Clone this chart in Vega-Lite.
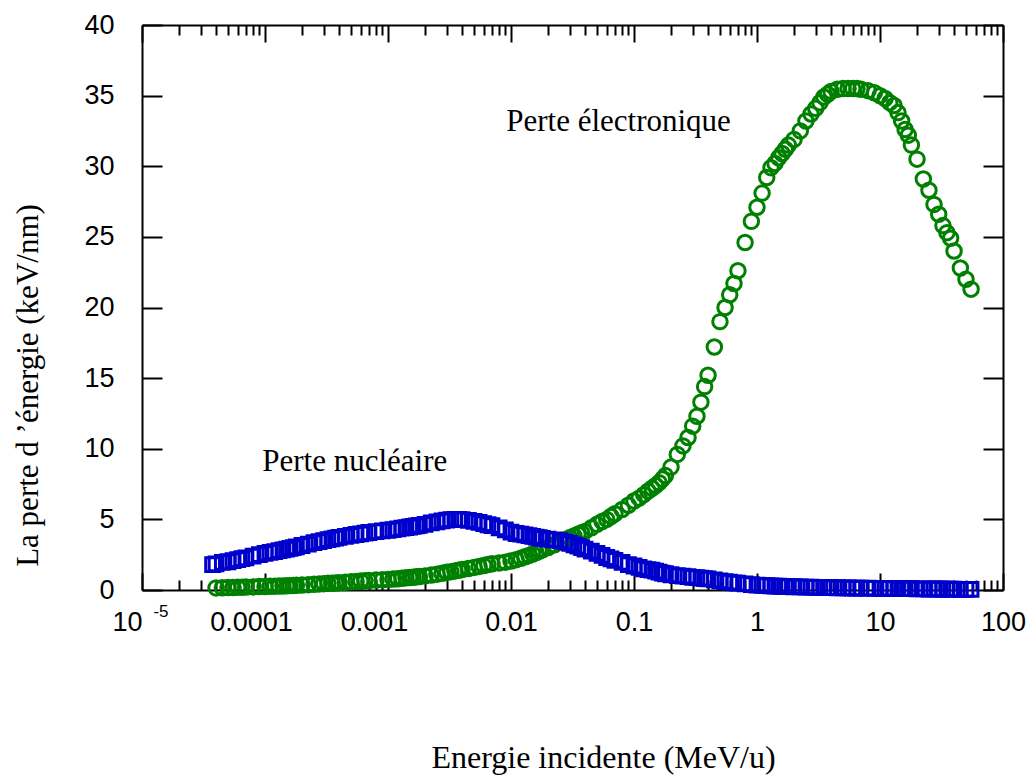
{
  "$schema": "https://vega.github.io/schema/vega-lite/v6.json",
  "width": 861,
  "height": 565,
  "autosize": {"type": "none"},
  "padding": {"left": 142, "top": 25, "right": 31, "bottom": 186},
  "background": "white",
  "config": {
    "view": {"stroke": null},
    "axis": {
      "grid": false,
      "domainColor": "black",
      "domainWidth": 2,
      "tickColor": "black",
      "tickWidth": 2,
      "labelColor": "black",
      "labelFont": "Liberation Sans",
      "labelFontSize": 27,
      "titleColor": "black",
      "titleFont": "Liberation Serif",
      "titleFontWeight": "normal"
    }
  },
  "datasets": {
    "electronique": [
      {"E": 4e-5, "S": 0.15}, {"E": 4.5e-5, "S": 0.16}, {"E": 5e-5, "S": 0.17}, {"E": 5.5e-5, "S": 0.18},
      {"E": 6e-5, "S": 0.19}, {"E": 6.5e-5, "S": 0.2}, {"E": 7e-5, "S": 0.21}, {"E": 8e-5, "S": 0.22},
      {"E": 9e-5, "S": 0.24}, {"E": 1e-4, "S": 0.25}, {"E": 1.1e-4, "S": 0.26}, {"E": 1.2e-4, "S": 0.27},
      {"E": 1.3e-4, "S": 0.28}, {"E": 1.4e-4, "S": 0.29}, {"E": 1.5e-4, "S": 0.3}, {"E": 1.6e-4, "S": 0.31},
      {"E": 1.7e-4, "S": 0.32}, {"E": 1.8e-4, "S": 0.33}, {"E": 2e-4, "S": 0.35}, {"E": 2.25e-4, "S": 0.38},
      {"E": 2.5e-4, "S": 0.4}, {"E": 2.75e-4, "S": 0.43}, {"E": 3e-4, "S": 0.45}, {"E": 3.25e-4, "S": 0.47},
      {"E": 3.5e-4, "S": 0.48}, {"E": 3.75e-4, "S": 0.5}, {"E": 4e-4, "S": 0.52}, {"E": 4.5e-4, "S": 0.55},
      {"E": 5e-4, "S": 0.58}, {"E": 5.5e-4, "S": 0.6}, {"E": 6e-4, "S": 0.63}, {"E": 6.5e-4, "S": 0.65},
      {"E": 7e-4, "S": 0.67}, {"E": 8e-4, "S": 0.7}, {"E": 9e-4, "S": 0.73}, {"E": 0.001, "S": 0.75},
      {"E": 0.0011, "S": 0.78}, {"E": 0.0012, "S": 0.8}, {"E": 0.0013, "S": 0.83}, {"E": 0.0014, "S": 0.86},
      {"E": 0.0015, "S": 0.88}, {"E": 0.0016, "S": 0.9}, {"E": 0.0017, "S": 0.93}, {"E": 0.0018, "S": 0.95},
      {"E": 0.002, "S": 1.0}, {"E": 0.00225, "S": 1.06}, {"E": 0.0025, "S": 1.12}, {"E": 0.00275, "S": 1.18},
      {"E": 0.003, "S": 1.25}, {"E": 0.00325, "S": 1.3}, {"E": 0.0035, "S": 1.35}, {"E": 0.00375, "S": 1.4},
      {"E": 0.004, "S": 1.45}, {"E": 0.0045, "S": 1.52}, {"E": 0.005, "S": 1.6}, {"E": 0.0055, "S": 1.67},
      {"E": 0.006, "S": 1.73}, {"E": 0.0065, "S": 1.8}, {"E": 0.007, "S": 1.85}, {"E": 0.008, "S": 1.92},
      {"E": 0.009, "S": 1.97}, {"E": 0.01, "S": 2.05}, {"E": 0.011, "S": 2.15}, {"E": 0.012, "S": 2.25},
      {"E": 0.013, "S": 2.35}, {"E": 0.014, "S": 2.45}, {"E": 0.015, "S": 2.55}, {"E": 0.016, "S": 2.65},
      {"E": 0.017, "S": 2.75}, {"E": 0.018, "S": 2.85}, {"E": 0.02, "S": 3.0}, {"E": 0.0225, "S": 3.2},
      {"E": 0.025, "S": 3.4}, {"E": 0.0275, "S": 3.55}, {"E": 0.03, "S": 3.7}, {"E": 0.0325, "S": 3.82},
      {"E": 0.035, "S": 3.95}, {"E": 0.0375, "S": 4.05}, {"E": 0.04, "S": 4.15}, {"E": 0.045, "S": 4.4},
      {"E": 0.05, "S": 4.65}, {"E": 0.055, "S": 4.85}, {"E": 0.06, "S": 5.0}, {"E": 0.065, "S": 5.2},
      {"E": 0.07, "S": 5.4}, {"E": 0.08, "S": 5.7}, {"E": 0.09, "S": 6.0}, {"E": 0.1, "S": 6.3},
      {"E": 0.11, "S": 6.5}, {"E": 0.12, "S": 6.75}, {"E": 0.13, "S": 7.0}, {"E": 0.14, "S": 7.2},
      {"E": 0.15, "S": 7.4}, {"E": 0.16, "S": 7.6}, {"E": 0.17, "S": 7.85}, {"E": 0.18, "S": 8.1},
      {"E": 0.2, "S": 8.7}, {"E": 0.225, "S": 9.6}, {"E": 0.25, "S": 10.2}, {"E": 0.275, "S": 10.8},
      {"E": 0.3, "S": 11.6}, {"E": 0.325, "S": 12.3}, {"E": 0.35, "S": 13.3}, {"E": 0.375, "S": 14.4},
      {"E": 0.4, "S": 15.2}, {"E": 0.45, "S": 17.2}, {"E": 0.5, "S": 19.0}, {"E": 0.55, "S": 20.0},
      {"E": 0.6, "S": 20.9}, {"E": 0.65, "S": 21.7}, {"E": 0.7, "S": 22.6}, {"E": 0.8, "S": 24.6},
      {"E": 0.9, "S": 26.1}, {"E": 1, "S": 27.1}, {"E": 1.1, "S": 28.1}, {"E": 1.2, "S": 29.2},
      {"E": 1.3, "S": 29.9}, {"E": 1.4, "S": 30.2}, {"E": 1.5, "S": 30.6}, {"E": 1.6, "S": 30.9},
      {"E": 1.7, "S": 31.2}, {"E": 1.8, "S": 31.5}, {"E": 2, "S": 31.9}, {"E": 2.25, "S": 32.5},
      {"E": 2.5, "S": 33.2}, {"E": 2.75, "S": 33.7}, {"E": 3, "S": 34.1}, {"E": 3.25, "S": 34.5},
      {"E": 3.5, "S": 34.9}, {"E": 3.75, "S": 35.1}, {"E": 4, "S": 35.3}, {"E": 4.5, "S": 35.45},
      {"E": 5, "S": 35.5}, {"E": 5.5, "S": 35.5}, {"E": 6, "S": 35.5}, {"E": 6.5, "S": 35.5},
      {"E": 7, "S": 35.45}, {"E": 8, "S": 35.35}, {"E": 9, "S": 35.2}, {"E": 10, "S": 35.0},
      {"E": 11, "S": 34.8}, {"E": 12, "S": 34.5}, {"E": 13, "S": 34.3}, {"E": 14, "S": 33.8},
      {"E": 15, "S": 33.2}, {"E": 16, "S": 32.6}, {"E": 17, "S": 32.2}, {"E": 18, "S": 31.5},
      {"E": 20, "S": 30.5}, {"E": 22.5, "S": 29.1}, {"E": 25, "S": 28.3}, {"E": 27.5, "S": 27.3},
      {"E": 30, "S": 26.6}, {"E": 32.5, "S": 25.8}, {"E": 35, "S": 25.3}, {"E": 37.5, "S": 24.9},
      {"E": 40, "S": 24.0}, {"E": 45, "S": 22.8}, {"E": 50, "S": 22.0}, {"E": 55, "S": 21.3}
    ],
    "nucleaire": [
      {"E": 3.75e-5, "S": 1.8}, {"E": 4e-5, "S": 1.85}, {"E": 4.5e-5, "S": 1.95}, {"E": 5e-5, "S": 2.0},
      {"E": 5.5e-5, "S": 2.08}, {"E": 6e-5, "S": 2.15}, {"E": 6.5e-5, "S": 2.22}, {"E": 7e-5, "S": 2.28},
      {"E": 8e-5, "S": 2.4}, {"E": 9e-5, "S": 2.5}, {"E": 1e-4, "S": 2.6}, {"E": 1.1e-4, "S": 2.66},
      {"E": 1.2e-4, "S": 2.72}, {"E": 1.3e-4, "S": 2.78}, {"E": 1.4e-4, "S": 2.84}, {"E": 1.5e-4, "S": 2.9},
      {"E": 1.6e-4, "S": 2.95}, {"E": 1.7e-4, "S": 3.0}, {"E": 1.8e-4, "S": 3.05}, {"E": 2e-4, "S": 3.15},
      {"E": 2.25e-4, "S": 3.25}, {"E": 2.5e-4, "S": 3.35}, {"E": 2.75e-4, "S": 3.43}, {"E": 3e-4, "S": 3.5},
      {"E": 3.25e-4, "S": 3.56}, {"E": 3.5e-4, "S": 3.62}, {"E": 3.75e-4, "S": 3.68}, {"E": 4e-4, "S": 3.72},
      {"E": 4.5e-4, "S": 3.8}, {"E": 5e-4, "S": 3.87}, {"E": 5.5e-4, "S": 3.93}, {"E": 6e-4, "S": 3.98},
      {"E": 6.5e-4, "S": 4.03}, {"E": 7e-4, "S": 4.07}, {"E": 8e-4, "S": 4.13}, {"E": 9e-4, "S": 4.18},
      {"E": 0.001, "S": 4.23}, {"E": 0.0011, "S": 4.28}, {"E": 0.0012, "S": 4.33}, {"E": 0.0013, "S": 4.38},
      {"E": 0.0014, "S": 4.42}, {"E": 0.0015, "S": 4.46}, {"E": 0.0016, "S": 4.5}, {"E": 0.0017, "S": 4.54},
      {"E": 0.0018, "S": 4.58}, {"E": 0.002, "S": 4.65}, {"E": 0.00225, "S": 4.75}, {"E": 0.0025, "S": 4.83},
      {"E": 0.00275, "S": 4.9}, {"E": 0.003, "S": 4.95}, {"E": 0.00325, "S": 4.98}, {"E": 0.0035, "S": 5.0},
      {"E": 0.00375, "S": 5.0}, {"E": 0.004, "S": 4.98}, {"E": 0.0045, "S": 4.93}, {"E": 0.005, "S": 4.86},
      {"E": 0.0055, "S": 4.78}, {"E": 0.006, "S": 4.7}, {"E": 0.0065, "S": 4.62}, {"E": 0.007, "S": 4.55},
      {"E": 0.008, "S": 4.4}, {"E": 0.009, "S": 4.25}, {"E": 0.01, "S": 4.1}, {"E": 0.011, "S": 4.0},
      {"E": 0.012, "S": 3.95}, {"E": 0.013, "S": 3.9}, {"E": 0.014, "S": 3.85}, {"E": 0.015, "S": 3.8},
      {"E": 0.016, "S": 3.75}, {"E": 0.017, "S": 3.7}, {"E": 0.018, "S": 3.65}, {"E": 0.02, "S": 3.6},
      {"E": 0.0225, "S": 3.55}, {"E": 0.025, "S": 3.5}, {"E": 0.0275, "S": 3.4}, {"E": 0.03, "S": 3.3},
      {"E": 0.0325, "S": 3.2}, {"E": 0.035, "S": 3.1}, {"E": 0.0375, "S": 3.0}, {"E": 0.04, "S": 2.9},
      {"E": 0.045, "S": 2.75}, {"E": 0.05, "S": 2.6}, {"E": 0.055, "S": 2.45}, {"E": 0.06, "S": 2.3},
      {"E": 0.065, "S": 2.2}, {"E": 0.07, "S": 2.1}, {"E": 0.08, "S": 1.95}, {"E": 0.09, "S": 1.8},
      {"E": 0.1, "S": 1.7}, {"E": 0.11, "S": 1.6}, {"E": 0.12, "S": 1.5}, {"E": 0.13, "S": 1.45},
      {"E": 0.14, "S": 1.4}, {"E": 0.15, "S": 1.33}, {"E": 0.16, "S": 1.27}, {"E": 0.17, "S": 1.2},
      {"E": 0.18, "S": 1.15}, {"E": 0.2, "S": 1.08}, {"E": 0.225, "S": 1.02}, {"E": 0.25, "S": 0.98},
      {"E": 0.275, "S": 0.94}, {"E": 0.3, "S": 0.9}, {"E": 0.325, "S": 0.87}, {"E": 0.35, "S": 0.84},
      {"E": 0.375, "S": 0.81}, {"E": 0.4, "S": 0.78}, {"E": 0.45, "S": 0.71}, {"E": 0.5, "S": 0.65},
      {"E": 0.55, "S": 0.6}, {"E": 0.6, "S": 0.55}, {"E": 0.65, "S": 0.51}, {"E": 0.7, "S": 0.48},
      {"E": 0.8, "S": 0.43}, {"E": 0.9, "S": 0.38}, {"E": 1, "S": 0.35}, {"E": 1.1, "S": 0.33},
      {"E": 1.2, "S": 0.31}, {"E": 1.3, "S": 0.29}, {"E": 1.4, "S": 0.28}, {"E": 1.5, "S": 0.27},
      {"E": 1.6, "S": 0.26}, {"E": 1.7, "S": 0.25}, {"E": 1.8, "S": 0.24}, {"E": 2, "S": 0.23},
      {"E": 2.25, "S": 0.22}, {"E": 2.5, "S": 0.21}, {"E": 2.75, "S": 0.2}, {"E": 3, "S": 0.19},
      {"E": 3.25, "S": 0.18}, {"E": 3.5, "S": 0.18}, {"E": 3.75, "S": 0.17}, {"E": 4, "S": 0.17},
      {"E": 4.5, "S": 0.16}, {"E": 5, "S": 0.15}, {"E": 5.5, "S": 0.15}, {"E": 6, "S": 0.14},
      {"E": 6.5, "S": 0.14}, {"E": 7, "S": 0.13}, {"E": 8, "S": 0.13}, {"E": 9, "S": 0.12},
      {"E": 10, "S": 0.12}, {"E": 11, "S": 0.11}, {"E": 12, "S": 0.11}, {"E": 13, "S": 0.1},
      {"E": 14, "S": 0.1}, {"E": 15, "S": 0.1}, {"E": 16, "S": 0.09}, {"E": 17, "S": 0.09},
      {"E": 18, "S": 0.09}, {"E": 20, "S": 0.08}, {"E": 22.5, "S": 0.08}, {"E": 25, "S": 0.07},
      {"E": 27.5, "S": 0.07}, {"E": 30, "S": 0.07}, {"E": 32.5, "S": 0.06}, {"E": 35, "S": 0.06},
      {"E": 37.5, "S": 0.06}, {"E": 40, "S": 0.06}, {"E": 45, "S": 0.05}, {"E": 50, "S": 0.05},
      {"E": 55, "S": 0.05}
    ]
  },
  "resolve": {"axis": {"x": "independent", "y": "independent"}},
  "layer": [
    {
      "data": {"name": "electronique"},
      "mark": {"type": "point", "shape": "circle", "filled": false, "size": 210, "strokeWidth": 3, "color": "#008000", "opacity": 1},
      "encoding": {
        "x": {
          "field": "E", "type": "quantitative",
          "scale": {"type": "log", "domain": [1e-5, 100], "nice": false},
          "axis": {
            "orient": "bottom",
            "values": [1e-5, 1e-4, 0.001, 0.01, 0.1, 1, 10, 100],
            "ticks": false,
            "domain": true,
            "labelPadding": 19,
            "labelFlush": false,
            "labelOverlap": false,
            "labelExpr": "datum.value < 2e-5 ? '10' : format(datum.value, '~g')",
            "labelAlign": {"condition": {"test": "datum.value < 2e-5", "value": "right"}, "value": "center"},
            "labelOffset": {"condition": {"test": "datum.value > 5e-5 && datum.value < 0.005", "value": -14}, "value": 0},
            "title": "Energie incidente (MeV/u)",
            "titleFontSize": 32,
            "titleX": 461,
            "titleY": 177,
            "titleAlign": "center",
            "titleBaseline": "alphabetic"
          }
        },
        "y": {
          "field": "S", "type": "quantitative",
          "scale": {"domain": [0, 40], "nice": false},
          "axis": {
            "orient": "left",
            "values": [0, 5, 10, 15, 20, 25, 30, 35, 40],
            "ticks": false,
            "domain": true,
            "labelPadding": 28,
            "labelFlush": false,
            "title": "La perte d ’énergie (keV/nm)",
            "titleFontSize": 31,
            "titleAngle": 270,
            "titleX": -114,
            "titleY": 360,
            "titleAlign": "center",
            "titleBaseline": "middle"
          }
        }
      }
    },
    {
      "data": {"name": "nucleaire"},
      "mark": {"type": "point", "shape": "square", "filled": false, "size": 190, "strokeWidth": 3, "color": "#0000cd", "opacity": 1},
      "encoding": {
        "x": {
          "field": "E", "type": "quantitative",
          "scale": {"type": "log", "domain": [1e-5, 100], "nice": false},
          "axis": {
            "orient": "top",
            "values": [1e-5, 1e-4, 0.001, 0.01, 0.1, 1, 10, 100],
            "labels": false,
            "tickSize": -17,
            "domain": true,
            "title": null
          }
        },
        "y": {
          "field": "S", "type": "quantitative",
          "scale": {"domain": [0, 40], "nice": false},
          "axis": {
            "orient": "right",
            "values": [0, 5, 10, 15, 20, 25, 30, 35, 40],
            "labels": false,
            "tickSize": -20,
            "domain": true,
            "title": null
          }
        }
      }
    },
    {
      "data": {"values": [{"E": 0.00914, "S": 33.1, "t": "Perte électronique"}]},
      "mark": {"type": "text", "font": "Liberation Serif", "fontSize": 31, "align": "left", "baseline": "middle", "color": "black"},
      "encoding": {
        "x": {
          "field": "E", "type": "quantitative",
          "scale": {"type": "log", "domain": [1e-5, 100], "nice": false},
          "axis": {
            "orient": "bottom",
            "values": [1e-5, 1e-4, 0.001, 0.01, 0.1, 1, 10, 100],
            "labels": false,
            "domain": false,
            "tickSize": -17,
            "title": null
          }
        },
        "y": {
          "field": "S", "type": "quantitative",
          "scale": {"domain": [0, 40], "nice": false},
          "axis": {
            "orient": "left",
            "values": [0, 5, 10, 15, 20, 25, 30, 35, 40],
            "labels": false,
            "domain": false,
            "tickSize": -20,
            "title": null
          }
        },
        "text": {"field": "t"}
      }
    },
    {
      "data": {"values": [{"E": 9.5e-5, "S": 9.06, "t": "Perte nucléaire"}]},
      "mark": {"type": "text", "font": "Liberation Serif", "fontSize": 31, "align": "left", "baseline": "middle", "color": "black"},
      "encoding": {
        "x": {
          "field": "E", "type": "quantitative",
          "scale": {"type": "log", "domain": [1e-5, 100], "nice": false},
          "axis": {
            "orient": "top",
            "values": [2e-5, 3e-5, 4e-5, 5e-5, 6e-5, 7e-5, 8e-5, 9e-5,
                       2e-4, 3e-4, 4e-4, 5e-4, 6e-4, 7e-4, 8e-4, 9e-4,
                       0.002, 0.003, 0.004, 0.005, 0.006, 0.007, 0.008, 0.009,
                       0.02, 0.03, 0.04, 0.05, 0.06, 0.07, 0.08, 0.09,
                       0.2, 0.3, 0.4, 0.5, 0.6, 0.7, 0.8, 0.9,
                       2, 3, 4, 5, 6, 7, 8, 9,
                       20, 30, 40, 50, 60, 70, 80, 90],
            "labels": false,
            "domain": false,
            "tickSize": -10,
            "title": null
          }
        },
        "y": {
          "field": "S", "type": "quantitative",
          "scale": {"domain": [0, 40], "nice": false},
          "axis": null
        },
        "text": {"field": "t"}
      }
    },
    {
      "data": {"values": [{"E": 1e-5, "S": 0, "t": "-5"}]},
      "mark": {"type": "text", "font": "Liberation Sans", "fontSize": 17, "align": "center", "baseline": "middle", "dx": 19, "dy": 22, "color": "black"},
      "encoding": {
        "x": {
          "field": "E", "type": "quantitative",
          "scale": {"type": "log", "domain": [1e-5, 100], "nice": false},
          "axis": {
            "orient": "bottom",
            "values": [2e-5, 3e-5, 4e-5, 5e-5, 6e-5, 7e-5, 8e-5, 9e-5,
                       2e-4, 3e-4, 4e-4, 5e-4, 6e-4, 7e-4, 8e-4, 9e-4,
                       0.002, 0.003, 0.004, 0.005, 0.006, 0.007, 0.008, 0.009,
                       0.02, 0.03, 0.04, 0.05, 0.06, 0.07, 0.08, 0.09,
                       0.2, 0.3, 0.4, 0.5, 0.6, 0.7, 0.8, 0.9,
                       2, 3, 4, 5, 6, 7, 8, 9,
                       20, 30, 40, 50, 60, 70, 80, 90],
            "labels": false,
            "domain": false,
            "tickSize": -10,
            "title": null
          }
        },
        "y": {
          "field": "S", "type": "quantitative",
          "scale": {"domain": [0, 40], "nice": false},
          "axis": null
        },
        "text": {"field": "t"}
      }
    }
  ]
}
